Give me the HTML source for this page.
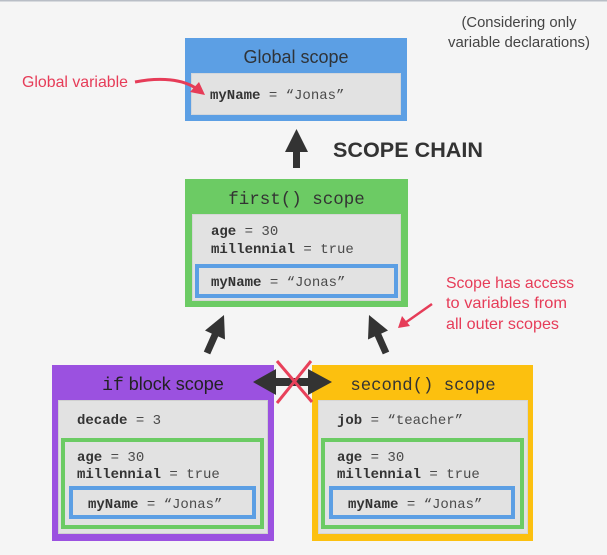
<!DOCTYPE html>
<html><head><meta charset="utf-8"><style>
html,body{margin:0;padding:0;background:#f5f5f5;}
svg{display:block;}
.mono{font-family:"Liberation Mono",monospace;font-size:14px;fill:#4a4a4a;}
.b{font-weight:bold;fill:#333;}
.sans{font-family:"Liberation Sans",sans-serif;}
.red{fill:#e63c58;font-family:"Liberation Sans",sans-serif;font-size:16px;}
</style></head><body>
<svg width="607" height="555" viewBox="0 0 607 555" xmlns="http://www.w3.org/2000/svg">
<rect x="0" y="0" width="607" height="555" fill="#f5f5f5"/>
<rect x="0" y="0" width="607" height="1.5" fill="#b9bec6"/>

<!-- top note -->
<text class="sans" x="519" y="27" font-size="15" fill="#444" text-anchor="middle" textLength="115" lengthAdjust="spacingAndGlyphs">(Considering only</text>
<text class="sans" x="519" y="47" font-size="15" fill="#444" text-anchor="middle" textLength="142" lengthAdjust="spacingAndGlyphs">variable declarations)</text>

<!-- Global scope -->
<rect x="185" y="38" width="222" height="83" fill="#5c9fe4"/>
<rect x="191.5" y="73.5" width="209" height="41" fill="#e2e2e2" stroke="#d2d6db" stroke-width="1"/>
<text class="sans" x="296" y="63" font-size="18" fill="#2f3338" text-anchor="middle">Global scope</text>
<text class="mono" x="210" y="99"><tspan class="b">myName</tspan> = “Jonas”</text>

<!-- Global variable label + arrow -->
<text class="red" x="22" y="87" textLength="106" lengthAdjust="spacingAndGlyphs">Global variable</text>
<path d="M135,82 C160,77 183,79 197,89" fill="none" stroke="#e63c58" stroke-width="3"/>
<polygon points="205,95 190,92 199,82" fill="#e63c58"/>

<!-- scope chain arrow -->
<polygon points="296.5,129 308,152 285,152" fill="#333"/>
<rect x="293" y="151" width="7" height="17" fill="#333"/>
<text class="sans" x="333" y="157" font-size="21" font-weight="bold" fill="#333" textLength="150" lengthAdjust="spacingAndGlyphs">SCOPE CHAIN</text>

<!-- first() scope -->
<rect x="185" y="179" width="223" height="128" fill="#6ccb64"/>
<rect x="192.5" y="214.5" width="208" height="86" fill="#e2e2e2" stroke="#d6d6d6" stroke-width="1"/>
<text x="296.5" y="204" font-family="Liberation Mono, monospace" font-size="17.5" fill="#333" text-anchor="middle">first() scope</text>
<text class="mono" x="211" y="235"><tspan class="b">age</tspan> = 30</text>
<text class="mono" x="211" y="253"><tspan class="b">millennial</tspan> = true</text>
<rect x="197" y="266" width="199" height="30" fill="#e2e2e2" stroke="#5c9fe4" stroke-width="4"/>
<text class="mono" x="211" y="286"><tspan class="b">myName</tspan> = “Jonas”</text>

<!-- arrows up to first -->
<polygon points="224,315 225,339.5 218.2,336.4 210.2,354.4 203.8,351.6 211.8,333.6 205,330.5" fill="#333"/>
<polygon points="369,315 368,339.5 374.8,336.4 382.8,354.4 389.2,351.6 381.2,333.6 388,330.5" fill="#333"/>

<!-- red note -->
<text class="red" x="446" y="288" textLength="128" lengthAdjust="spacingAndGlyphs">Scope has access</text>
<text class="red" x="446" y="308" textLength="121" lengthAdjust="spacingAndGlyphs">to variables from</text>
<text class="red" x="446" y="329" textLength="113" lengthAdjust="spacingAndGlyphs">all outer scopes</text>
<line x1="432" y1="304" x2="405" y2="323" stroke="#e63c58" stroke-width="2.5"/>
<polygon points="398,328 402,316 410,326" fill="#e63c58"/>

<!-- if block scope -->
<rect x="52" y="365" width="222" height="176" fill="#9b51e0"/>
<rect x="58.5" y="400.5" width="209" height="133" fill="#e2e2e2" stroke="#d0d0d0" stroke-width="1"/>
<text x="163" y="390" font-size="18" fill="#222" text-anchor="middle"><tspan font-family="Liberation Mono, monospace">if</tspan><tspan font-family="Liberation Sans, sans-serif"> block scope</tspan></text>
<text class="mono" x="77" y="424"><tspan class="b">decade</tspan> = 3</text>
<rect x="63" y="440" width="199" height="87" fill="#e2e2e2" stroke="#6ccb64" stroke-width="4"/>
<text class="mono" x="77" y="461"><tspan class="b">age</tspan> = 30</text>
<text class="mono" x="77" y="478"><tspan class="b">millennial</tspan> = true</text>
<rect x="71" y="488" width="183" height="29" fill="#e2e2e2" stroke="#5c9fe4" stroke-width="4"/>
<text class="mono" x="88" y="508"><tspan class="b">myName</tspan> = “Jonas”</text>

<!-- second() scope -->
<rect x="312" y="365" width="221" height="176" fill="#fcc00f"/>
<rect x="318.5" y="400.5" width="209" height="133" fill="#e2e2e2" stroke="#d6d6d6" stroke-width="1"/>
<text x="423" y="390" font-family="Liberation Mono, monospace" font-size="17.3" fill="#333" text-anchor="middle">second() scope</text>
<text class="mono" x="337" y="424"><tspan class="b">job</tspan> = “teacher”</text>
<rect x="323" y="440" width="199" height="87" fill="#e2e2e2" stroke="#6ccb64" stroke-width="4"/>
<text class="mono" x="337" y="461"><tspan class="b">age</tspan> = 30</text>
<text class="mono" x="337" y="478"><tspan class="b">millennial</tspan> = true</text>
<rect x="331" y="488" width="182" height="29" fill="#e2e2e2" stroke="#5c9fe4" stroke-width="4"/>
<text class="mono" x="348" y="508"><tspan class="b">myName</tspan> = “Jonas”</text>

<!-- double arrow with red X -->
<polygon points="253,382 276,369 276,395" fill="#333"/>
<polygon points="332,382 308,369 308,395" fill="#333"/>
<rect x="275" y="378" width="34" height="8" fill="#333"/>
<line x1="277" y1="361" x2="312" y2="402" stroke="#e8405a" stroke-width="3"/>
<line x1="311" y1="361" x2="277" y2="403" stroke="#e8405a" stroke-width="3"/>
</svg>
</body></html>
